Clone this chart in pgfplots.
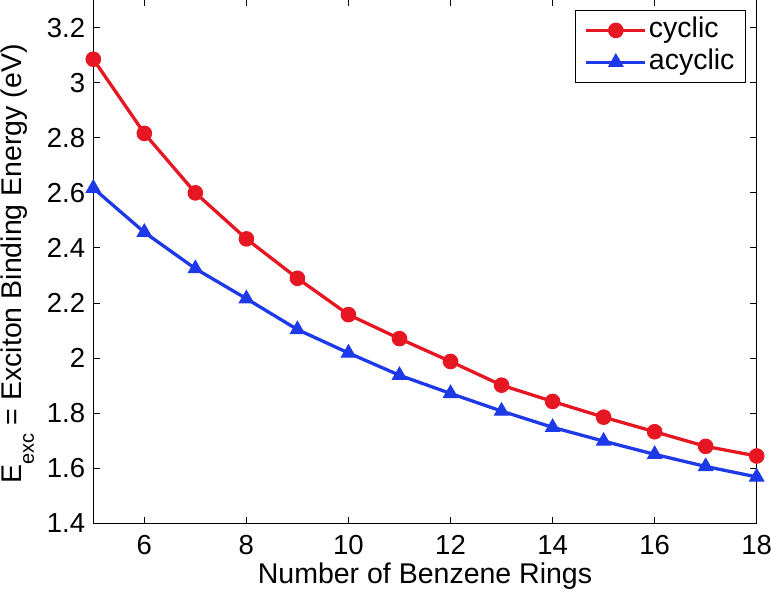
\documentclass[border=0pt]{standalone}
\usepackage{fontspec}
\setmainfont{Liberation Sans}
\usepackage{pgfplots}
\pgfplotsset{compat=1.18}
\definecolor{cred}{RGB}{230,22,34}
\definecolor{cblue}{RGB}{30,58,232}
\begin{document}
\fontsize{27.5}{33}\selectfont
\begin{tikzpicture}
\begin{axis}[name=ax, scale only axis, width=663.4pt, height=523.5pt,
  xmin=5, xmax=18, ymin=1.4, ymax=3.3,
  xtick={6,8,10,12,14,16,18},
  ytick={1.4,1.6,1.8,2,2.2,2.4,2.6,2.8,3,3.2},
  tick align=inside, major tick length=6.5pt,
  axis line style={line width=1pt, black},
  every tick/.style={black, line width=1pt},
  /pgf/number format/assume math mode=true,
  tick label style={font=\fontsize{27.5}{33}\selectfont},
  xticklabel style={anchor=north, inner sep=0pt, yshift=-11.5pt},
  yticklabel style={anchor=east, inner sep=0pt, xshift=-8pt},
  xlabel={Number of Benzene Rings},
  xlabel style={at={(rel axis cs:0.5,0)}, anchor=north, inner sep=0pt, yshift=-39pt, font=\fontsize{28.5}{34}\selectfont},
  ylabel={E\raisebox{-12pt}{\fontsize{20}{24}\selectfont exc} = Exciton Binding Energy (eV)},
  ylabel style={at={(rel axis cs:0,0.5)}, anchor=base, inner sep=0pt, yshift=71.5pt, xshift=-2pt, font=\fontsize{28.5}{34}\selectfont},
  legend style={at={(rel axis cs:1,1)}, anchor=north east, xshift=-10.7pt, yshift=-10pt,
    draw=black, line width=1pt, inner xsep=9pt, inner ysep=5pt, row sep=2pt,
    font=\fontsize{28.5}{34}\selectfont,
    nodes={inner sep=2pt, text height=0.72em, text depth=0.22em}},
  legend cell align=left,
  legend image code/.code={%
    \draw[mark repeat=2,mark phase=2,#1] plot coordinates {(0pt,0pt) (29.5pt,0pt) (59pt,0pt)};},
]
\addplot[color=cred, line width=3.3pt, mark=*, mark size=7.3pt, mark options={solid, line width=1pt, fill=cred}]
coordinates {(5,3.085) (6,2.816) (7,2.600) (8,2.433) (9,2.290) (10,2.158) (11,2.071) (12,1.988) (13,1.902) (14,1.843) (15,1.786) (16,1.733) (17,1.680) (18,1.645)};
\addlegendentry{cyclic}
\addplot[color=cblue, line width=3.3pt, mark=triangle*, mark size=8.2pt, mark options={solid, line width=1pt, fill=cblue}]
coordinates {(5,2.617) (6,2.457) (7,2.325) (8,2.216) (9,2.104) (10,2.019) (11,1.938) (12,1.872) (13,1.808) (14,1.749) (15,1.699) (16,1.651) (17,1.607) (18,1.569)};
\addlegendentry{acyclic}
\end{axis}
\pgfresetboundingbox
\path ([shift={(-93.3pt,-68.5pt)}]ax.south west) rectangle ([shift={(14.3pt,0pt)}]ax.north east);
\end{tikzpicture}
\end{document}
